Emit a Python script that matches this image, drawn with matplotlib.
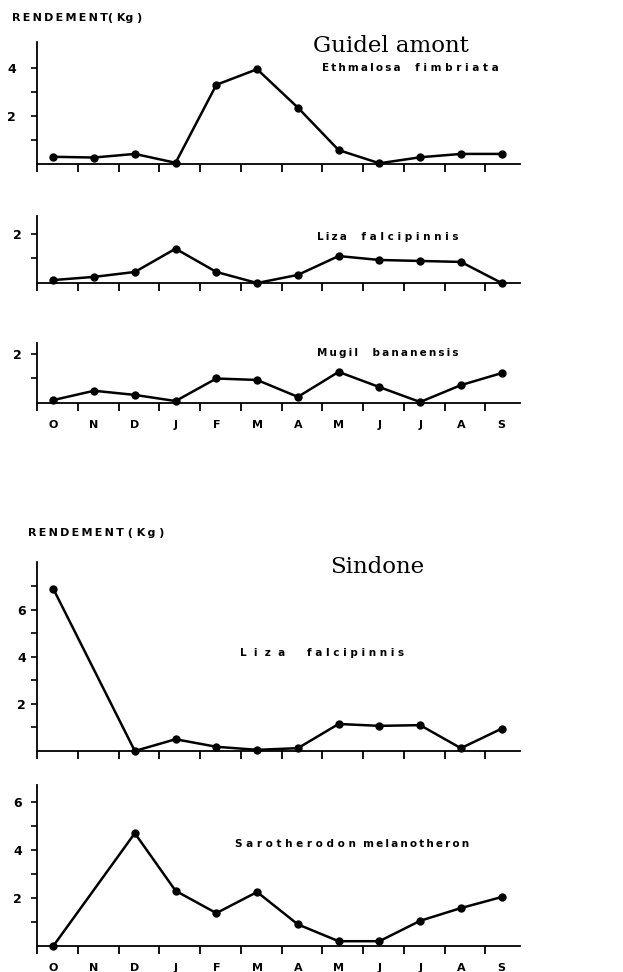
import numpy as np
import pandas as pd
import matplotlib
matplotlib.use("Agg")
import matplotlib.pyplot as plt

months = ["O", "N", "D", "J", "F", "M", "A", "M", "J", "J", "A", "S"]

ethmalosa = [0.3, 0.27, 0.42, 0.05, 3.3, 3.95, 2.35, 0.58, 0.03, 0.28, 0.42, 0.42]
liza_guidel = [0.12, 0.25, 0.45, 1.4, 0.45, 0.0, 0.33, 1.1, 0.94, 0.9, 0.86, 0.0]
mugil = [0.12, 0.5, 0.33, 0.08, 1.0, 0.94, 0.25, 1.27, 0.65, 0.04, 0.73, 1.22]
liza_sindone = [6.9, None, 0.0, 0.5, 0.18, 0.05, 0.12, 1.15, 1.07, 1.1, 0.12, 0.95]
sarotherodon = [0.0, None, 4.7, 2.3, 1.37, 2.25, 0.9, 0.2, 0.2, 1.05, 1.58, 2.04]

W, H = 623, 972
fig = plt.figure(figsize=(W / 100, H / 100), dpi=100)

THIN = "\u2009"


def box(left, top, right, bottom):
    return [left / W, 1 - bottom / H, (right - left) / W, (bottom - top) / H]


def spaced(s, sep=THIN):
    return sep.join(s)


def panel(top, bottom, ymax, values, major, minor, show_months, ypad):
    ax = fig.add_axes(box(37, top, 520, bottom))
    s = pd.Series(values, dtype=float).dropna()
    ax.plot(s.index.values, s.values, color="black", lw=1.8, marker="o",
            ms=5, clip_on=False, zorder=3)
    ax.set_xlim(-0.4, 11.45)
    ax.set_ylim(0, ymax)
    for sp in ["top", "right"]:
        ax.spines[sp].set_visible(False)
    for sp in ["left", "bottom"]:
        ax.spines[sp].set_linewidth(1.3)
    ax.set_xticks(np.arange(12) - 0.4)
    ax.set_xticklabels([])
    ax.tick_params(axis="x", which="major", direction="out", length=6,
                   width=1.3)
    if show_months:
        ax.set_xticks(np.arange(12), labels=months, minor=True)
        ax.tick_params(axis="x", which="minor", length=0, pad=12,
                       labelsize=8)
        for t in ax.get_xticklabels(minor=True):
            t.set_fontweight("bold")
    ax.set_yticks(major)
    ax.set_yticks(minor, minor=True)
    ax.tick_params(axis="y", which="both", direction="out", length=4,
                   width=1.2, labelsize=9, pad=ypad)
    for t in ax.get_yticklabels():
        t.set_fontweight("bold")
    ax.patch.set_visible(False)
    return ax


panel(42, 164, 122 / 24, ethmalosa, [2, 4], [1, 3], False, 11)
panel(216, 283, 67 / 24.5, liza_guidel, [2], [1], False, 7)
panel(343, 403, 60 / 24.5, mugil, [2], [1], True, 7)
panel(562, 751, 189 / 23.5, liza_sindone, [2, 4, 6], [1, 3, 5, 7], False, 4)
panel(785, 946, 161 / 24, sarotherodon, [2, 4, 6], [1, 3, 5], True, 7)


def ftext(x, y, s, **kw):
    fig.text(x / W, 1 - y / H, s, va="center", **kw)


ftext(12, 18, spaced("RENDEMENT") + "( Kg )", fontsize=8, fontweight="bold")
ftext(28, 533, spaced("RENDEMENT") + " ( K" + THIN + "g )", fontsize=8,
      fontweight="bold")
ftext(313, 46, "Guidel amont", fontsize=16.5, family="DejaVu Serif")
ftext(330, 567, "Sindone", fontsize=16.5, family="DejaVu Serif")

SP = dict(fontsize=7.5, fontweight="bold")
ftext(322, 68, spaced("Ethmalosa") + "    " + spaced("fimbriata", " "), **SP)
ftext(317, 237, spaced("Liza") + "    " + spaced("falcipinnis", " "), **SP)
ftext(317, 353, spaced("Mugil") + "    " + spaced("bananensis"), **SP)
ftext(240, 653, spaced("Liza", "  ") + "      " + spaced("falcipinnis", " "), **SP)
ftext(235, 844, spaced("Sarotherodon", " ") + "  " + spaced("melanotheron"), **SP)

fig.savefig("out.png", dpi=100, facecolor="white")
